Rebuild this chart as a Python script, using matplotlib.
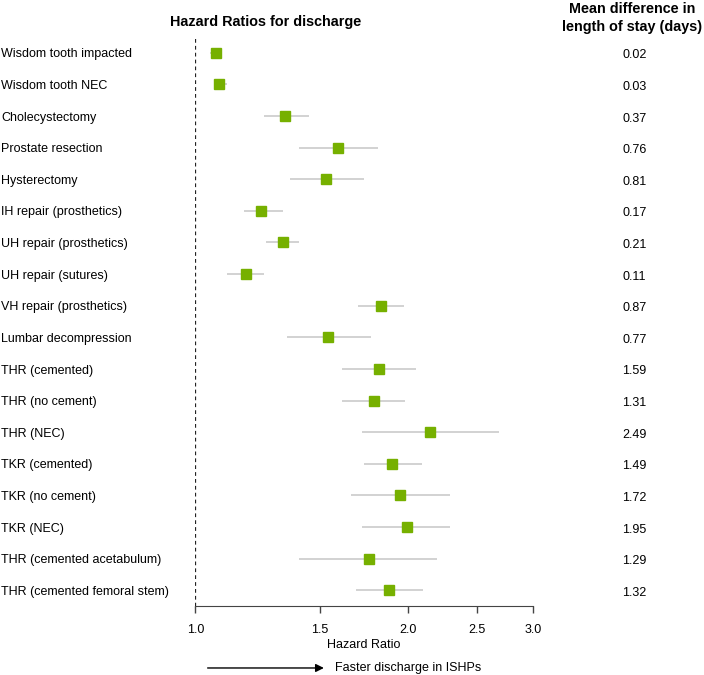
import matplotlib
matplotlib.use("Agg")
import matplotlib.pyplot as plt
import matplotlib.transforms as mtrans
from matplotlib.ticker import FixedLocator, NullLocator

plt.rcParams['font.family'] = ['Liberation Sans', 'DejaVu Sans']

# procedures, top to bottom
procedures = ["Wisdom tooth impacted", "Wisdom tooth NEC", "Cholecystectomy",
              "Prostate resection", "Hysterectomy", "IH repair (prosthetics)",
              "UH repair (prosthetics)", "UH repair (sutures)", "VH repair (prosthetics)",
              "Lumbar decompression", "THR (cemented)", "THR (no cement)", "THR (NEC)",
              "TKR (cemented)", "TKR (no cement)", "TKR (NEC)",
              "THR (cemented acetabulum)", "THR (cemented femoral stem)"]
hazard_ratio = [1.07, 1.08, 1.34, 1.59, 1.53, 1.24, 1.33, 1.18, 1.83,
                1.54, 1.82, 1.79, 2.15, 1.90, 1.95, 1.99, 1.76, 1.88]
ci_low = [1.05, 1.07, 1.25, 1.40, 1.36, 1.17, 1.26, 1.11, 1.70,
          1.35, 1.61, 1.61, 1.72, 1.73, 1.66, 1.72, 1.40, 1.69]
ci_high = [1.09, 1.11, 1.45, 1.81, 1.73, 1.33, 1.40, 1.25, 1.97,
           1.77, 2.05, 1.98, 2.69, 2.09, 2.29, 2.29, 2.20, 2.10]
mean_diff = ["0.02", "0.03", "0.37", "0.76", "0.81", "0.17", "0.21", "0.11", "0.87",
             "0.77", "1.59", "1.31", "2.49", "1.49", "1.72", "1.95", "1.29", "1.32"]
x_ticks = [1.0, 1.5, 2.0, 2.5, 3.0]

fig = plt.figure(figsize=(7.04, 6.75), dpi=100)
ax = fig.add_axes([0.2774, 0.1022, 0.4793, 0.843])

rows = list(range(len(procedures)))
ax.hlines(rows, ci_low, ci_high, color='#cfcfcf', lw=1.3, zorder=1)
ax.plot(hazard_ratio, rows, 's', color='#76b000', markersize=6.5, zorder=2)
ax.axvline(1.0, color='#222222', ls=(0, (3, 2.5)), lw=0.9, zorder=0)

ax.set_xscale('log')
ax.set_xlim(1.0, 3.0)
ax.set_ylim(len(procedures) - 0.5, -0.5)
ax.xaxis.set_major_locator(FixedLocator(x_ticks))
ax.xaxis.set_minor_locator(NullLocator())
ax.set_xticklabels(["%.1f" % t for t in x_ticks], fontsize=9)
ax.tick_params(axis='x', length=5, width=1, color='#444444', pad=8)
ax.set_yticks([])
for s in ['left', 'right', 'top']:
    ax.spines[s].set_visible(False)
ax.spines['bottom'].set_color('#444444')
ax.set_xlabel("Hazard Ratio", fontsize=9, labelpad=2)

# row labels and mean differences (figure x, data y)
tr = mtrans.blended_transform_factory(fig.transFigure, ax.transData)
for i, (name, md) in enumerate(zip(procedures, mean_diff)):
    ax.text(0.002, i + 0.05, name, transform=tr, ha='left', va='center', fontsize=9)
    ax.text(0.901, i + 0.08, md, transform=tr, ha='center', va='center', fontsize=9)

fig.text(0.378, 0.967, "Hazard Ratios for discharge", ha='center', va='center',
         fontsize=10.4, fontweight='bold')
fig.text(0.898, 0.987, "Mean difference in", ha='center', va='center',
         fontsize=10.4, fontweight='bold')
fig.text(0.898, 0.960, "length of stay (days)", ha='center', va='center',
         fontsize=10.4, fontweight='bold')

ax.annotate("", xy=(0.464, 0.0104), xytext=(0.291, 0.0104), xycoords='figure fraction',
            arrowprops=dict(arrowstyle='-|>', color='black', lw=1, mutation_scale=12))
fig.text(0.476, 0.0104, "Faster discharge in ISHPs", ha='left', va='center', fontsize=9)

fig.savefig("out.png", dpi=100)
